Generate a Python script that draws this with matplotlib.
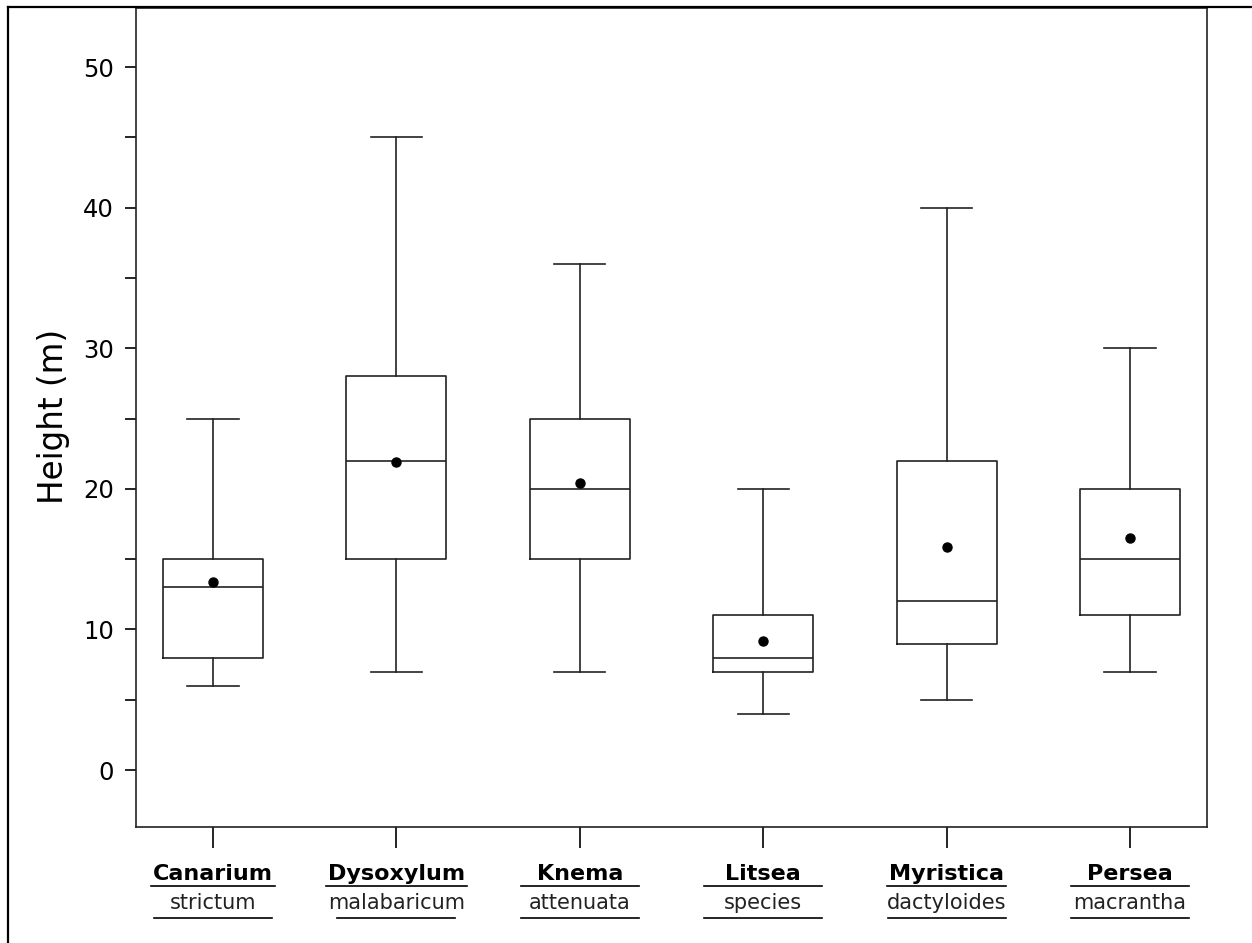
import numpy as np
from matplotlib import pyplot as plt
from matplotlib.lines import Line2D

genus = ['Canarium', 'Dysoxylum', 'Knema', 'Litsea', 'Myristica', 'Persea']
species = ['strictum', 'malabaricum', 'attenuata', 'species', 'dactyloides', 'macrantha']

whislo = [6, 7, 7, 4, 5, 7]
q1 = [8, 15, 15, 7, 9, 11]
med = [13, 22, 20, 8, 12, 15]
q3 = [15, 28, 25, 11, 22, 20]
whishi = [25, 45, 36, 20, 40, 30]
mean = [13.4, 21.9, 20.4, 9.2, 15.9, 16.5]

W, H = 1252, 943
fig = plt.figure(figsize=(W / 100, H / 100), dpi=100)
ax = fig.add_axes([136 / W, 1 - 827 / H, (1207 - 136) / W, (827 - 8) / H])

stats = []
for i in range(len(genus)):
    stats.append(dict(label=genus[i], whislo=whislo[i], q1=q1[i], med=med[i],
                      q3=q3[i], whishi=whishi[i], mean=mean[i], fliers=[]))

pos = np.arange(1, len(genus) + 1)
lp = dict(color='#222222', linewidth=1.2)
ax.bxp(stats, positions=pos, widths=0.545, showmeans=True, showfliers=False,
       boxprops=lp, medianprops=lp, whiskerprops=lp, capprops=lp,
       capwidths=0.28,
       meanprops=dict(marker='o', markerfacecolor='black', markeredgecolor='black', markersize=6.5))

ax.set_xlim(0.58, 6.42)
ax.set_ylim(-4.05, 54.2)
ax.set_yticks([0, 10, 20, 30, 40, 50])
ax.set_yticks([5, 15, 25, 35, 45], minor=True)
ax.tick_params(axis='y', which='both', length=8, width=1.2, direction='out', pad=8,
               labelsize=17.5)
ax.set_xticks(pos)
ax.set_xticklabels([])
ax.tick_params(axis='x', length=15, width=1.2, direction='out')
for s in ax.spines.values():
    s.set_linewidth(1.2)
    s.set_color('#222222')

fig.text(53 / W, 1 - 416 / H, 'Height (m)', rotation=90, ha='center', va='center',
         fontsize=23.5)

# two-line category labels with rules under them
fig.canvas.draw()
renderer = fig.canvas.get_renderer()
for i in range(len(genus)):
    xc = ax.transData.transform((pos[i], 0))[0] / W
    tg = fig.text(xc, 1 - 874 / H, genus[i], ha='center', va='center',
                  fontsize=16, fontweight='bold')
    ts = fig.text(xc, 1 - 903 / H, species[i], ha='center', va='center',
                  fontsize=15, color='#222222')
    wg = tg.get_window_extent(renderer).width
    lw1 = max(wg + 4, 118) / W
    fig.add_artist(Line2D([xc - lw1 / 2, xc + lw1 / 2], [1 - 886 / H] * 2,
                          color='black', linewidth=1.2))
    lw2 = 118 / W
    fig.add_artist(Line2D([xc - lw2 / 2, xc + lw2 / 2], [1 - 918 / H] * 2,
                          color='black', linewidth=1.2))

# outer frame (left and top)
fig.add_artist(Line2D([8 / W, 8 / W], [0, 1 - 7 / H], color='black', linewidth=1.6))
fig.add_artist(Line2D([8 / W, 1], [1 - 7 / H, 1 - 7 / H], color='black', linewidth=1.6))

fig.savefig('out.png', dpi=100)
